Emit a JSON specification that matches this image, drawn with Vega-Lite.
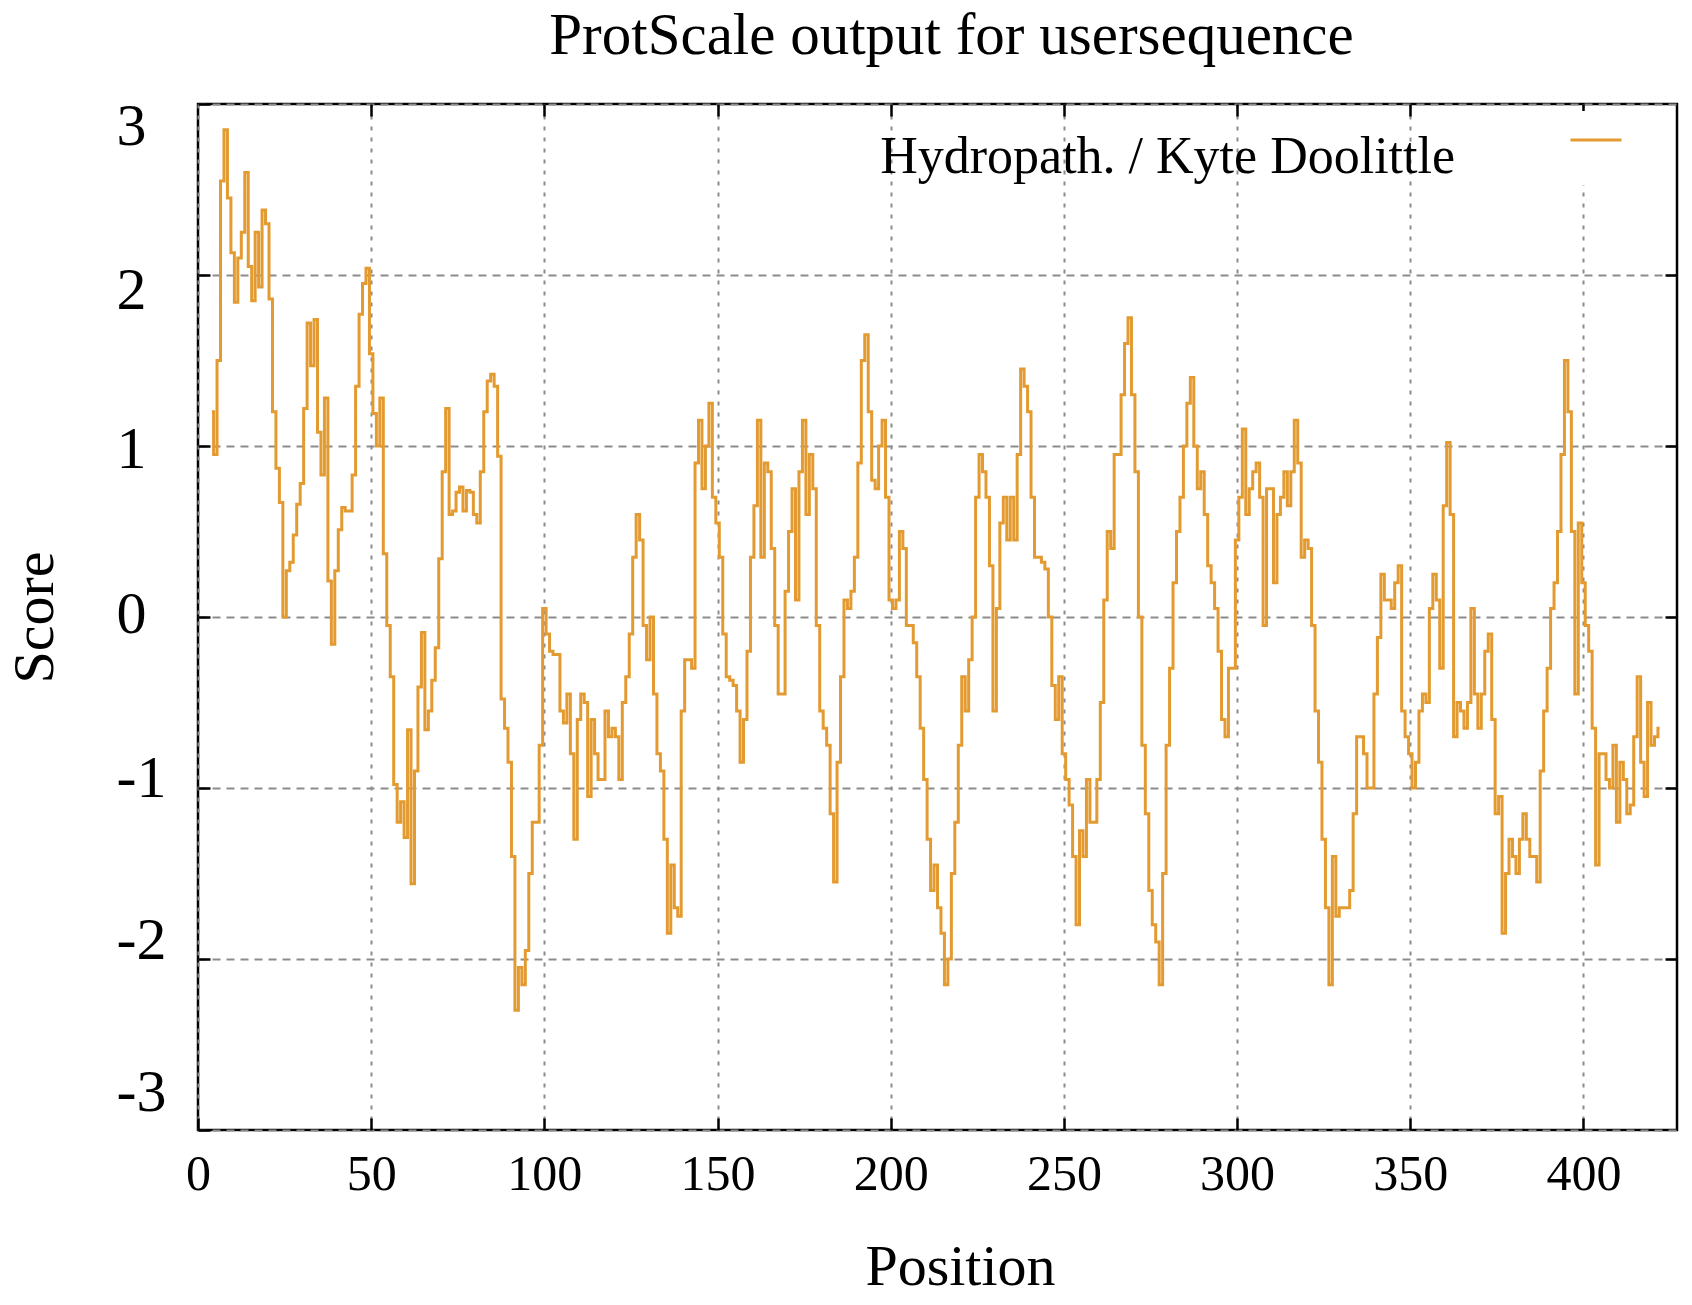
{
  "$schema": "https://vega.github.io/schema/vega-lite/v6.json",
  "width": 1479,
  "height": 1026,
  "autosize": "none",
  "padding": {"left": 198, "top": 104, "right": 15, "bottom": 175},
  "background": "white",
  "title": {
    "text": "ProtScale output for usersequence",
    "font": "Liberation Serif",
    "fontSize": 59,
    "fontWeight": "normal",
    "color": "black",
    "anchor": "middle",
    "frame": "group",
    "offset": 30,
    "dx": 14
  },
  "data": {
    "values": [
      {"position": 4, "score": 1.2}, {"position": 5, "score": 0.95}, {"position": 6, "score": 1.5}, {"position": 7, "score": 2.55},
      {"position": 8, "score": 2.85}, {"position": 9, "score": 2.45}, {"position": 10, "score": 2.13}, {"position": 11, "score": 1.84},
      {"position": 12, "score": 2.1}, {"position": 13, "score": 2.25}, {"position": 14, "score": 2.6}, {"position": 15, "score": 2.05},
      {"position": 16, "score": 1.85}, {"position": 17, "score": 2.25}, {"position": 18, "score": 1.93}, {"position": 19, "score": 2.38},
      {"position": 20, "score": 2.3}, {"position": 21, "score": 1.86}, {"position": 22, "score": 1.2}, {"position": 23, "score": 0.87},
      {"position": 24, "score": 0.67}, {"position": 25, "score": 0.0}, {"position": 26, "score": 0.27}, {"position": 27, "score": 0.32},
      {"position": 28, "score": 0.48}, {"position": 29, "score": 0.66}, {"position": 30, "score": 0.78}, {"position": 31, "score": 1.22},
      {"position": 32, "score": 1.72}, {"position": 33, "score": 1.47}, {"position": 34, "score": 1.74}, {"position": 35, "score": 1.08},
      {"position": 36, "score": 0.83}, {"position": 37, "score": 1.28}, {"position": 38, "score": 0.21}, {"position": 39, "score": -0.16},
      {"position": 40, "score": 0.27}, {"position": 41, "score": 0.51}, {"position": 42, "score": 0.64}, {"position": 43, "score": 0.62},
      {"position": 44, "score": 0.62}, {"position": 45, "score": 0.83}, {"position": 46, "score": 1.35}, {"position": 47, "score": 1.77},
      {"position": 48, "score": 1.95}, {"position": 49, "score": 2.04}, {"position": 50, "score": 1.54}, {"position": 51, "score": 1.19},
      {"position": 52, "score": 1.0}, {"position": 53, "score": 1.28}, {"position": 54, "score": 0.37}, {"position": 55, "score": -0.05},
      {"position": 56, "score": -0.35}, {"position": 57, "score": -0.98}, {"position": 58, "score": -1.2}, {"position": 59, "score": -1.08},
      {"position": 60, "score": -1.29}, {"position": 61, "score": -0.66}, {"position": 62, "score": -1.56}, {"position": 63, "score": -0.9},
      {"position": 64, "score": -0.41}, {"position": 65, "score": -0.09}, {"position": 66, "score": -0.66}, {"position": 67, "score": -0.55},
      {"position": 68, "score": -0.37}, {"position": 69, "score": -0.18}, {"position": 70, "score": 0.34}, {"position": 71, "score": 0.85},
      {"position": 72, "score": 1.22}, {"position": 73, "score": 0.6}, {"position": 74, "score": 0.62}, {"position": 75, "score": 0.73},
      {"position": 76, "score": 0.76}, {"position": 77, "score": 0.62}, {"position": 78, "score": 0.74}, {"position": 79, "score": 0.73},
      {"position": 80, "score": 0.6}, {"position": 81, "score": 0.55}, {"position": 82, "score": 0.85}, {"position": 83, "score": 1.2},
      {"position": 84, "score": 1.38}, {"position": 85, "score": 1.42}, {"position": 86, "score": 1.35}, {"position": 87, "score": 0.94},
      {"position": 88, "score": -0.48}, {"position": 89, "score": -0.65}, {"position": 90, "score": -0.85}, {"position": 91, "score": -1.4},
      {"position": 92, "score": -2.3}, {"position": 93, "score": -2.05}, {"position": 94, "score": -2.15}, {"position": 95, "score": -1.95},
      {"position": 96, "score": -1.5}, {"position": 97, "score": -1.2}, {"position": 98, "score": -1.2}, {"position": 99, "score": -0.75},
      {"position": 100, "score": 0.05}, {"position": 101, "score": -0.1}, {"position": 102, "score": -0.2}, {"position": 103, "score": -0.22},
      {"position": 104, "score": -0.22}, {"position": 105, "score": -0.55}, {"position": 106, "score": -0.62}, {"position": 107, "score": -0.45},
      {"position": 108, "score": -0.8}, {"position": 109, "score": -1.3}, {"position": 110, "score": -0.6}, {"position": 111, "score": -0.45},
      {"position": 112, "score": -0.5}, {"position": 113, "score": -1.05}, {"position": 114, "score": -0.6}, {"position": 115, "score": -0.8},
      {"position": 116, "score": -0.95}, {"position": 117, "score": -0.95}, {"position": 118, "score": -0.55}, {"position": 119, "score": -0.7},
      {"position": 120, "score": -0.65}, {"position": 121, "score": -0.7}, {"position": 122, "score": -0.95}, {"position": 123, "score": -0.5},
      {"position": 124, "score": -0.35}, {"position": 125, "score": -0.1}, {"position": 126, "score": 0.35}, {"position": 127, "score": 0.6},
      {"position": 128, "score": 0.45}, {"position": 129, "score": -0.05}, {"position": 130, "score": -0.25}, {"position": 131, "score": 0.0},
      {"position": 132, "score": -0.45}, {"position": 133, "score": -0.8}, {"position": 134, "score": -0.9}, {"position": 135, "score": -1.3},
      {"position": 136, "score": -1.85}, {"position": 137, "score": -1.45}, {"position": 138, "score": -1.7}, {"position": 139, "score": -1.75},
      {"position": 140, "score": -0.55}, {"position": 141, "score": -0.25}, {"position": 142, "score": -0.25}, {"position": 143, "score": -0.3},
      {"position": 144, "score": 0.9}, {"position": 145, "score": 1.15}, {"position": 146, "score": 0.75}, {"position": 147, "score": 1.0},
      {"position": 148, "score": 1.25}, {"position": 149, "score": 0.7}, {"position": 150, "score": 0.55}, {"position": 151, "score": 0.35},
      {"position": 152, "score": -0.1}, {"position": 153, "score": -0.35}, {"position": 154, "score": -0.37}, {"position": 155, "score": -0.4},
      {"position": 156, "score": -0.55}, {"position": 157, "score": -0.85}, {"position": 158, "score": -0.6}, {"position": 159, "score": -0.2},
      {"position": 160, "score": 0.35}, {"position": 161, "score": 0.65}, {"position": 162, "score": 1.15}, {"position": 163, "score": 0.35},
      {"position": 164, "score": 0.9}, {"position": 165, "score": 0.85}, {"position": 166, "score": 0.4}, {"position": 167, "score": -0.05},
      {"position": 168, "score": -0.45}, {"position": 169, "score": -0.45}, {"position": 170, "score": 0.15}, {"position": 171, "score": 0.5},
      {"position": 172, "score": 0.75}, {"position": 173, "score": 0.1}, {"position": 174, "score": 0.85}, {"position": 175, "score": 1.15},
      {"position": 176, "score": 0.6}, {"position": 177, "score": 0.95}, {"position": 178, "score": 0.75}, {"position": 179, "score": -0.05},
      {"position": 180, "score": -0.55}, {"position": 181, "score": -0.65}, {"position": 182, "score": -0.75}, {"position": 183, "score": -1.15},
      {"position": 184, "score": -1.55}, {"position": 185, "score": -0.85}, {"position": 186, "score": -0.35}, {"position": 187, "score": 0.1},
      {"position": 188, "score": 0.05}, {"position": 189, "score": 0.15}, {"position": 190, "score": 0.35}, {"position": 191, "score": 0.9},
      {"position": 192, "score": 1.5}, {"position": 193, "score": 1.65}, {"position": 194, "score": 1.2}, {"position": 195, "score": 0.8},
      {"position": 196, "score": 0.75}, {"position": 197, "score": 1.0}, {"position": 198, "score": 1.15}, {"position": 199, "score": 0.7},
      {"position": 200, "score": 0.1}, {"position": 201, "score": 0.05}, {"position": 202, "score": 0.1}, {"position": 203, "score": 0.5},
      {"position": 204, "score": 0.4}, {"position": 205, "score": -0.05}, {"position": 206, "score": -0.05}, {"position": 207, "score": -0.15},
      {"position": 208, "score": -0.35}, {"position": 209, "score": -0.65}, {"position": 210, "score": -0.95}, {"position": 211, "score": -1.3},
      {"position": 212, "score": -1.6}, {"position": 213, "score": -1.45}, {"position": 214, "score": -1.7}, {"position": 215, "score": -1.85},
      {"position": 216, "score": -2.15}, {"position": 217, "score": -2.0}, {"position": 218, "score": -1.5}, {"position": 219, "score": -1.2},
      {"position": 220, "score": -0.75}, {"position": 221, "score": -0.35}, {"position": 222, "score": -0.55}, {"position": 223, "score": -0.25},
      {"position": 224, "score": 0.0}, {"position": 225, "score": 0.7}, {"position": 226, "score": 0.95}, {"position": 227, "score": 0.85},
      {"position": 228, "score": 0.7}, {"position": 229, "score": 0.3}, {"position": 230, "score": -0.55}, {"position": 231, "score": 0.05},
      {"position": 232, "score": 0.55}, {"position": 233, "score": 0.7}, {"position": 234, "score": 0.45}, {"position": 235, "score": 0.7},
      {"position": 236, "score": 0.45}, {"position": 237, "score": 0.95}, {"position": 238, "score": 1.45}, {"position": 239, "score": 1.35},
      {"position": 240, "score": 1.2}, {"position": 241, "score": 0.7}, {"position": 242, "score": 0.35}, {"position": 243, "score": 0.35},
      {"position": 244, "score": 0.32}, {"position": 245, "score": 0.28}, {"position": 246, "score": 0.0}, {"position": 247, "score": -0.4},
      {"position": 248, "score": -0.6}, {"position": 249, "score": -0.35}, {"position": 250, "score": -0.8}, {"position": 251, "score": -0.95},
      {"position": 252, "score": -1.1}, {"position": 253, "score": -1.4}, {"position": 254, "score": -1.8}, {"position": 255, "score": -1.25},
      {"position": 256, "score": -1.4}, {"position": 257, "score": -0.95}, {"position": 258, "score": -1.2}, {"position": 259, "score": -1.2},
      {"position": 260, "score": -0.95}, {"position": 261, "score": -0.5}, {"position": 262, "score": 0.1}, {"position": 263, "score": 0.5},
      {"position": 264, "score": 0.4}, {"position": 265, "score": 0.95}, {"position": 266, "score": 0.95}, {"position": 267, "score": 1.3},
      {"position": 268, "score": 1.6}, {"position": 269, "score": 1.75}, {"position": 270, "score": 1.3}, {"position": 271, "score": 0.85},
      {"position": 272, "score": 0.0}, {"position": 273, "score": -0.75}, {"position": 274, "score": -1.15}, {"position": 275, "score": -1.6},
      {"position": 276, "score": -1.8}, {"position": 277, "score": -1.9}, {"position": 278, "score": -2.15}, {"position": 279, "score": -1.5},
      {"position": 280, "score": -0.75}, {"position": 281, "score": -0.3}, {"position": 282, "score": 0.2}, {"position": 283, "score": 0.5},
      {"position": 284, "score": 0.7}, {"position": 285, "score": 1.0}, {"position": 286, "score": 1.25}, {"position": 287, "score": 1.4},
      {"position": 288, "score": 1.0}, {"position": 289, "score": 0.75}, {"position": 290, "score": 0.85}, {"position": 291, "score": 0.6},
      {"position": 292, "score": 0.3}, {"position": 293, "score": 0.2}, {"position": 294, "score": 0.05}, {"position": 295, "score": -0.2},
      {"position": 296, "score": -0.6}, {"position": 297, "score": -0.7}, {"position": 298, "score": -0.3}, {"position": 299, "score": -0.3},
      {"position": 300, "score": 0.45}, {"position": 301, "score": 0.7}, {"position": 302, "score": 1.1}, {"position": 303, "score": 0.6},
      {"position": 304, "score": 0.75}, {"position": 305, "score": 0.85}, {"position": 306, "score": 0.9}, {"position": 307, "score": 0.7},
      {"position": 308, "score": -0.05}, {"position": 309, "score": 0.75}, {"position": 310, "score": 0.75}, {"position": 311, "score": 0.2},
      {"position": 312, "score": 0.6}, {"position": 313, "score": 0.7}, {"position": 314, "score": 0.85}, {"position": 315, "score": 0.65},
      {"position": 316, "score": 0.85}, {"position": 317, "score": 1.15}, {"position": 318, "score": 0.9}, {"position": 319, "score": 0.35},
      {"position": 320, "score": 0.45}, {"position": 321, "score": 0.4}, {"position": 322, "score": -0.05}, {"position": 323, "score": -0.55},
      {"position": 324, "score": -0.85}, {"position": 325, "score": -1.3}, {"position": 326, "score": -1.7}, {"position": 327, "score": -2.15},
      {"position": 328, "score": -1.4}, {"position": 329, "score": -1.75}, {"position": 330, "score": -1.7}, {"position": 331, "score": -1.7},
      {"position": 332, "score": -1.7}, {"position": 333, "score": -1.6}, {"position": 334, "score": -1.15}, {"position": 335, "score": -0.7},
      {"position": 336, "score": -0.7}, {"position": 337, "score": -0.8}, {"position": 338, "score": -1.0}, {"position": 339, "score": -1.0},
      {"position": 340, "score": -0.45}, {"position": 341, "score": -0.12}, {"position": 342, "score": 0.25}, {"position": 343, "score": 0.1},
      {"position": 344, "score": 0.1}, {"position": 345, "score": 0.05}, {"position": 346, "score": 0.2}, {"position": 347, "score": 0.3},
      {"position": 348, "score": -0.55}, {"position": 349, "score": -0.7}, {"position": 350, "score": -0.8}, {"position": 351, "score": -1.0},
      {"position": 352, "score": -0.85}, {"position": 353, "score": -0.55}, {"position": 354, "score": -0.45}, {"position": 355, "score": -0.5},
      {"position": 356, "score": 0.05}, {"position": 357, "score": 0.25}, {"position": 358, "score": 0.1}, {"position": 359, "score": -0.3},
      {"position": 360, "score": 0.65}, {"position": 361, "score": 1.02}, {"position": 362, "score": 0.6}, {"position": 363, "score": -0.7},
      {"position": 364, "score": -0.5}, {"position": 365, "score": -0.55}, {"position": 366, "score": -0.65}, {"position": 367, "score": -0.5},
      {"position": 368, "score": 0.05}, {"position": 369, "score": -0.45}, {"position": 370, "score": -0.65}, {"position": 371, "score": -0.45},
      {"position": 372, "score": -0.2}, {"position": 373, "score": -0.1}, {"position": 374, "score": -0.6}, {"position": 375, "score": -1.15},
      {"position": 376, "score": -1.05}, {"position": 377, "score": -1.85}, {"position": 378, "score": -1.5}, {"position": 379, "score": -1.3},
      {"position": 380, "score": -1.4}, {"position": 381, "score": -1.5}, {"position": 382, "score": -1.3}, {"position": 383, "score": -1.15},
      {"position": 384, "score": -1.3}, {"position": 385, "score": -1.4}, {"position": 386, "score": -1.4}, {"position": 387, "score": -1.55},
      {"position": 388, "score": -0.9}, {"position": 389, "score": -0.55}, {"position": 390, "score": -0.3}, {"position": 391, "score": 0.05},
      {"position": 392, "score": 0.2}, {"position": 393, "score": 0.5}, {"position": 394, "score": 0.95}, {"position": 395, "score": 1.5},
      {"position": 396, "score": 1.2}, {"position": 397, "score": 0.5}, {"position": 398, "score": -0.45}, {"position": 399, "score": 0.55},
      {"position": 400, "score": 0.2}, {"position": 401, "score": -0.05}, {"position": 402, "score": -0.2}, {"position": 403, "score": -0.65},
      {"position": 404, "score": -1.45}, {"position": 405, "score": -0.8}, {"position": 406, "score": -0.8}, {"position": 407, "score": -0.95},
      {"position": 408, "score": -1.0}, {"position": 409, "score": -0.75}, {"position": 410, "score": -1.2}, {"position": 411, "score": -0.85},
      {"position": 412, "score": -0.95}, {"position": 413, "score": -1.15}, {"position": 414, "score": -1.1}, {"position": 415, "score": -0.7},
      {"position": 416, "score": -0.35}, {"position": 417, "score": -0.85}, {"position": 418, "score": -1.05}, {"position": 419, "score": -0.5},
      {"position": 420, "score": -0.75}, {"position": 421, "score": -0.7}, {"position": 422, "score": -0.65}
    ]
  },
  "layer": [
    {
      "mark": {"type": "line", "interpolate": "step", "strokeWidth": 3},
      "encoding": {
        "x": {
          "field": "position",
          "type": "quantitative",
          "scale": {"domain": [0, 427], "nice": false, "zero": false},
          "axis": {
            "title": "Position",
            "values": [0, 50, 100, 150, 200, 250, 300, 350, 400],
            "domain": false,
            "ticks": true,
            "tickSize": -12,
            "tickWidth": 2.5,
            "tickColor": "black",
            "grid": true,
            "gridColor": "#8c8c8c",
            "gridWidth": 2,
            "gridDash": [4, 7],
            "labelFont": "Liberation Serif",
            "labelFontSize": 50,
            "labelColor": "black",
            "labelBaseline": "alphabetic",
            "labelPadding": 71,
            "labelFlush": false,
            "labelOverlap": false,
            "titleFont": "Liberation Serif",
            "titleFontSize": 58,
            "titleFontWeight": "normal",
            "titleColor": "black",
            "titleX": 762,
            "titleY": 154,
            "titleAlign": "center",
            "titleBaseline": "alphabetic"
          }
        },
        "y": {
          "field": "score",
          "type": "quantitative",
          "scale": {"domain": [-3, 3], "nice": false},
          "axis": {
            "title": "Score",
            "values": [-3, -2, -1, 0, 1, 2, 3],
            "labelExpr": "replace(datum.label, '\u2212', '-')",
            "domain": false,
            "ticks": true,
            "tickSize": -12,
            "tickWidth": 2.5,
            "tickColor": "black",
            "grid": true,
            "gridColor": "#8c8c8c",
            "gridWidth": 2,
            "gridDash": [8, 6],
            "labelFont": "Liberation Serif",
            "labelFontSize": 60,
            "labelColor": "black",
            "labelAlign": "left",
            "labelBaseline": "middle",
            "labelPadding": 94,
            "labelFlush": false,
            "labelOverlap": false,
            "labelOffset": {
              "condition": [
                {"test": "datum.value == 3", "value": 22},
                {"test": "datum.value == 2", "value": 15},
                {"test": "datum.value == 1", "value": 3},
                {"test": "datum.value == 0", "value": -3},
                {"test": "datum.value == -1", "value": -10},
                {"test": "datum.value == -2", "value": -19}
              ],
              "value": -38
            },
            "titleFont": "Liberation Serif",
            "titleFontSize": 58,
            "titleFontWeight": "normal",
            "titleColor": "black",
            "titleAngle": -90,
            "titleX": -146,
            "titleY": 513,
            "titleAlign": "center",
            "titleBaseline": "alphabetic"
          }
        },
        "color": {
          "datum": "Hydropath. / Kyte Doolittle",
          "scale": {"range": ["#E39B31"]},
          "legend": {
            "orient": "none",
            "legendX": 1369,
            "legendY": 7,
            "title": null,
            "padding": 2,
            "fillColor": "white",
            "labelFont": "Liberation Serif",
            "labelFontSize": 52,
            "labelColor": "black",
            "labelLimit": 1000,
            "labelAlign": "right",
            "labelOffset": -168,
            "labelBaseline": "middle",
            "symbolType": "stroke",
            "symbolSize": 2600,
            "symbolStrokeWidth": 3,
            "symbolStrokeColor": "#E39B31",
            "encode": {"labels": {"update": {"dy": {"value": 17}}}}
          }
        }
      }
    },
    {
      "mark": {"type": "line", "interpolate": "step", "opacity": 0},
      "encoding": {
        "x": {
          "field": "position",
          "type": "quantitative",
          "scale": {"domain": [0, 427], "nice": false, "zero": false},
          "axis": {
            "orient": "top",
            "title": null,
            "values": [50, 100, 150, 200, 250, 300, 350, 400],
            "labels": false,
            "domain": false,
            "grid": false,
            "tickSize": -12,
            "tickWidth": 2.5,
            "tickColor": "black"
          }
        },
        "y": {
          "field": "score",
          "type": "quantitative",
          "scale": {"domain": [-3, 3], "nice": false},
          "axis": {
            "orient": "right",
            "title": null,
            "values": [-2, -1, 0, 1, 2],
            "labels": false,
            "domain": false,
            "grid": false,
            "tickSize": -12,
            "tickWidth": 2.5,
            "tickColor": "black"
          }
        }
      }
    }
  ],
  "resolve": {"axis": {"x": "independent", "y": "independent"}},
  "config": {
    "font": "Liberation Serif",
    "view": {"stroke": "black", "strokeWidth": 2.5}
  }
}
